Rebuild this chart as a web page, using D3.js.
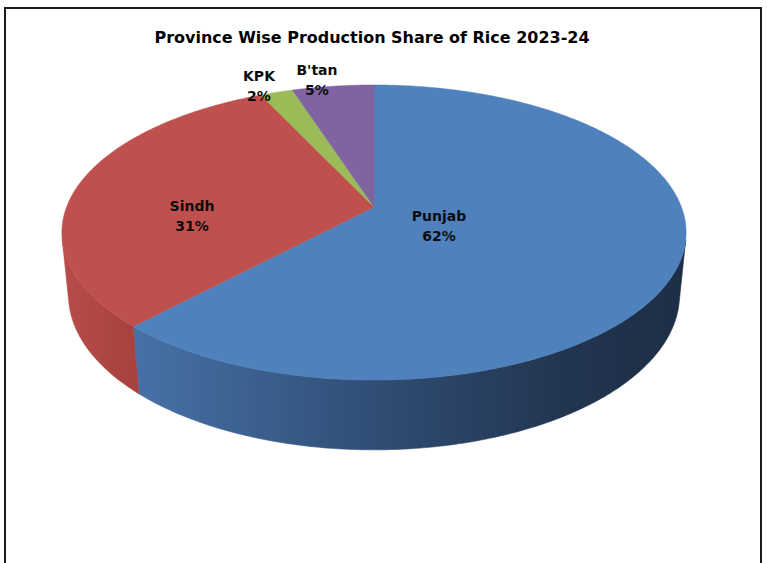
<!DOCTYPE html>
<html>
<head>
<meta charset="utf-8">
<script src="https://cdn.jsdelivr.net/npm/d3@7"></script>
<style>
  html, body { margin: 0; padding: 0; background: #ffffff; }
  svg { display: block; }
</style>
</head>
<body>
<script>
// ---------- data ----------
const categories = ["Punjab", "Sindh", "KPK", "B'tan"];
const values = [62, 31, 2, 5];
const percentLabels = ["62%", "31%", "2%", "5%"];
const topColors = ["#4f81bd", "#c0504d", "#9bbb59", "#8064a2"];
const title = "Province Wise Production Share of Rice 2023-24";

// ---------- layout ----------
const W = 767, H = 563;
const svg = d3.select("body").append("svg").attr("width", W).attr("height", H);

// frame
svg.append("rect").attr("x", 5).attr("y", 8).attr("width", 756).attr("height", 620)
  .attr("fill", "#fff").attr("stroke", "#1a1a1a").attr("stroke-width", 2);

// title
svg.append("text")
  .attr("x", 372).attr("y", 43)
  .attr("text-anchor", "middle")
  .attr("font-family", "DejaVu Sans, Verdana, sans-serif")
  .attr("font-weight", "bold")
  .attr("font-size", 16.5)
  .attr("fill", "#000")
  .attr("textLength", 435)
  .attr("lengthAdjust", "spacingAndGlyphs")
  .text(title);

// ---------- 3D perspective projection of a unit disk ----------
const cx = 374, apexY = 207;
const f = 1574, sA = 0.4656, cA = 0.885, Dd = 5.12, thick = 0.231;
function proj(theta, w) {
  const u = Math.sin(theta), v = Math.cos(theta);
  const yc = v * sA + w * cA;
  const z = Dd + v * cA - w * sA;
  return [cx + f * u / z, apexY - f * yc / z];
}
function apex(w) {
  const yc = w * cA, z = Dd - w * sA;
  return [cx, apexY - f * yc / z];
}

const pie = d3.pie().sort(null).value(d => d.value).startAngle(0).endAngle(2 * Math.PI);
const arcs = pie(categories.map((c, i) => ({ name: c, value: values[i], color: topColors[i], label: percentLabels[i] })));

const line = d3.line();
function rimPoints(a0, a1, w) {
  const n = Math.max(2, Math.ceil((a1 - a0) / (Math.PI / 360)));
  const pts = [];
  for (let k = 0; k <= n; k++) pts.push(proj(a0 + (a1 - a0) * k / n, w));
  return pts;
}

// gradients for side walls
const defs = svg.append("defs");
const gP = defs.append("linearGradient").attr("id", "sidePunjab")
  .attr("gradientUnits", "userSpaceOnUse").attr("x1", 137).attr("x2", 686).attr("y1", 0).attr("y2", 0);
[[0, "#4671a6"], [0.45, "#2f4c73"], [0.78, "#22354f"], [1, "#1d2e46"]].forEach(s =>
  gP.append("stop").attr("offset", s[0]).attr("stop-color", s[1]));
const gS = defs.append("linearGradient").attr("id", "sideSindh")
  .attr("gradientUnits", "userSpaceOnUse").attr("x1", 63).attr("x2", 140).attr("y1", 0).attr("y2", 0);
[[0, "#b84c48"], [1, "#a5413e"]].forEach(s =>
  gS.append("stop").attr("offset", s[0]).attr("stop-color", s[1]));
const sideFill = { "Punjab": "url(#sidePunjab)", "Sindh": "url(#sideSindh)", "KPK": "#7a9446", "B'tan": "#654f80" };

// visible outer wall range
const vis0 = Math.acos(-1 / (Dd * cA));
const vis1 = 2 * Math.PI - vis0;

const gWalls = svg.append("g");
arcs.forEach(a => {
  const a0 = Math.max(a.startAngle, vis0), a1 = Math.min(a.endAngle, vis1);
  if (a1 <= a0) return;
  const top = rimPoints(a0, a1, 0);
  const bot = rimPoints(a0, a1, -thick).reverse();
  gWalls.append("path")
    .attr("d", line(top.concat(bot)) + "Z")
    .attr("fill", sideFill[a.data.name])
    .attr("stroke", sideFill[a.data.name]).attr("stroke-width", 0.6);
});

// top faces
const gTop = svg.append("g");
arcs.forEach(a => {
  const pts = [apex(0)].concat(rimPoints(a.startAngle, a.endAngle, 0));
  gTop.append("path")
    .attr("d", line(pts) + "Z")
    .attr("fill", a.data.color)
    .attr("stroke", a.data.color).attr("stroke-width", 0.5);
});

// labels
const labelPos = { "Punjab": [439, 221], "Sindh": [192, 211], "KPK": [259, 81], "B'tan": [317, 75] };
const gLab = svg.append("g")
  .attr("font-family", "DejaVu Sans, Verdana, sans-serif")
  .attr("font-weight", "bold").attr("font-size", 14).attr("fill", "#0d0d0d")
  .attr("text-anchor", "middle");
arcs.forEach(a => {
  const p = labelPos[a.data.name];
  const t = gLab.append("text").attr("x", p[0]).attr("y", p[1]);
  t.append("tspan").attr("x", p[0]).attr("dy", 0).text(a.data.name);
  t.append("tspan").attr("x", p[0]).attr("dy", 19.5).text(a.data.label);
});
</script>
</body>
</html>
